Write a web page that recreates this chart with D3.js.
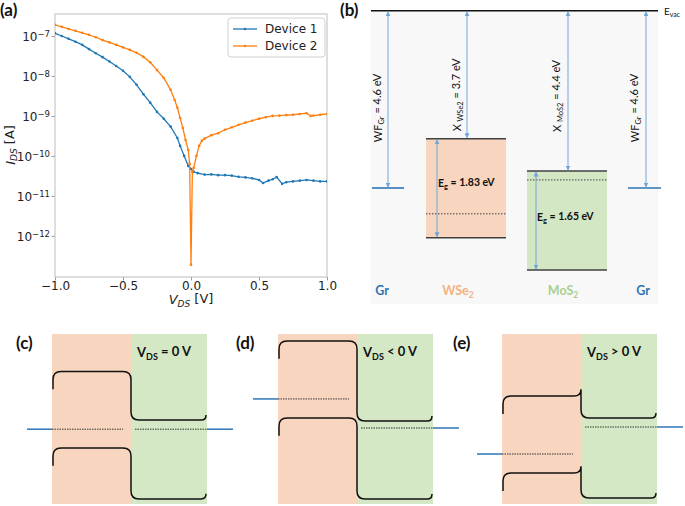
<!DOCTYPE html>
<html><head><meta charset="utf-8">
<script src="https://cdn.jsdelivr.net/npm/d3@7"></script>
<style>body{margin:0;background:#fff}svg{display:block}</style>
</head><body>
<script>
// ---------- Panel (a) data ----------
const voltage1 = [-1.0,-0.95,-0.9,-0.85,-0.8,-0.75,-0.7,-0.65,-0.6,-0.55,-0.5,-0.45,-0.4,-0.35,-0.3,-0.25,-0.2,-0.15,-0.1,-0.08,-0.05,-0.02,0.0,0.02,0.05,0.1,0.15,0.2,0.25,0.3,0.35,0.4,0.45,0.5,0.53,0.57,0.6,0.63,0.67,0.7,0.75,0.8,0.85,0.9,0.95,1.0];
const current1 = [1.17e-7,1.0e-7,8.5e-8,7.2e-8,6.0e-8,4.7e-8,3.7e-8,2.95e-8,2.3e-8,1.78e-8,1.35e-8,9.5e-9,6.0e-9,3.5e-9,2.15e-9,1.26e-9,8.5e-10,5.4e-10,2.8e-10,1.78e-10,1.0e-10,5.6e-11,4.7e-11,4.0e-11,3.7e-11,3.4e-11,3.45e-11,3.3e-11,3.3e-11,3.2e-11,3.0e-11,2.9e-11,2.75e-11,2.5e-11,2.1e-11,2.4e-11,2.6e-11,2.95e-11,2.0e-11,2.2e-11,2.3e-11,2.4e-11,2.5e-11,2.4e-11,2.3e-11,2.3e-11];
const voltage2 = [-1.0,-0.95,-0.9,-0.85,-0.8,-0.75,-0.7,-0.65,-0.6,-0.55,-0.5,-0.45,-0.4,-0.35,-0.3,-0.25,-0.2,-0.15,-0.12,-0.1,-0.08,-0.06,-0.04,-0.02,-0.01,0.0,0.01,0.02,0.04,0.06,0.08,0.1,0.15,0.2,0.25,0.3,0.35,0.4,0.45,0.5,0.55,0.6,0.65,0.7,0.75,0.8,0.85,0.88,0.9,0.95,1.0];
const current2 = [1.9e-7,1.7e-7,1.5e-7,1.35e-7,1.2e-7,1.07e-7,9.3e-8,7.9e-8,6.9e-8,6.0e-8,5.2e-8,4.5e-8,3.8e-8,3.0e-8,2.2e-8,1.4e-8,8.9e-9,4.5e-9,2.5e-9,1.6e-9,8.9e-10,5.0e-10,2.5e-10,1.4e-10,6.3e-11,1.9e-13,4.0e-11,5.0e-11,1.0e-10,1.8e-10,2.4e-10,2.7e-10,3.3e-10,3.7e-10,4.5e-10,5.2e-10,6.0e-10,6.8e-10,7.6e-10,8.5e-10,9.3e-10,1.0e-9,1.02e-9,1.05e-9,1.07e-9,1.12e-9,1.17e-9,1.0e-9,1.02e-9,1.07e-9,1.12e-9];
const seriesNames = ["Device 1","Device 2"];
const seriesColors = ["#1f77b4","#ff7f0e"];
const xTickValues = [-1.0,-0.5,0.0,0.5,1.0];
const yTickExponents = [-12,-11,-10,-9,-8,-7];

// ---------- Panel (b) data ----------
const bMaterials = ["Gr","WSe","MoS","Gr"];
const bMaterialColors = ["#2e75b6","#f4b183","#a9d18e","#2e75b6"];
const workFunctionGr = 4.6;
const affinities = [3.7, 4.4];        // chi WSe2, chi MoS2 (eV)
const bandGaps = [1.83, 1.65];        // Eg WSe2, Eg MoS2 (eV)
// schematic drawn levels below vacuum (diagram units)
const cbLevels = [3.32, 4.16];
const vbLevels = [5.89, 6.73];
const fermiLevels = [5.27, 4.39];

// ---------- Panels (c)-(e) data (schematic, relative energy 0-100) ----------
const panelLabels = ["(c)","(d)","(e)"];
const biasText = ["= 0 V","< 0 V","> 0 V"];
const wse2CB = [78, 95.9, 63.5];
const mos2CB = [49.4, 48.8, 50.6];
const wse2VB = [33, 50.6, 18.2];
const mos2VB = [3, 2.9, 3.5];
const fermiLeft = [44, 61.8, 29.4];
const fermiRight = [44, 44.7, 45.3];
const junctionSpike = [0, 0, 4];
const bendLeft = 10.5, bendRight = 3;

const svg = d3.select("body").append("svg").attr("width",685).attr("height",506);
const defs = svg.append("defs");

// ================= Panel (a) =================
const mpl = "DejaVu Sans, sans-serif";
const x = d3.scaleLinear().domain([-1,1]).range([55,327]);
const y = d3.scaleLog().domain([Math.pow(10,-13.03), Math.pow(10,-6.45)]).range([277,14]);
const gA = svg.append("g");
defs.append("clipPath").attr("id","clipA").append("rect").attr("x",55).attr("y",14).attr("width",272).attr("height",263);

const xAxis = gA.append("g").attr("transform","translate(0,277)")
  .call(d3.axisBottom(x).tickValues(xTickValues).tickSizeOuter(0).tickSize(3.5).tickPadding(0.5)
    .tickFormat(d => d3.format(".1f")(d).replace("-","\u2212")));
const yAxis = gA.append("g").attr("transform","translate(55,0)")
  .call(d3.axisLeft(y).tickValues(yTickExponents.map(e => Math.pow(10,e))).tickSizeOuter(0).tickSize(3.5).tickFormat(""));
[xAxis,yAxis].forEach(a => {
  a.select(".domain").remove();
  a.selectAll("line").attr("stroke","#999");
  a.selectAll("text").attr("font-family",mpl).attr("font-size",12).attr("fill","#222");
});
yAxis.selectAll(".tick").each(function(d,i){
  const t = d3.select(this).append("text").attr("x",-5).attr("dy","0.4em")
    .attr("text-anchor","end").attr("font-family",mpl).attr("font-size",12).attr("fill","#222");
  t.append("tspan").text("10");
  t.append("tspan").attr("dy","-0.45em").attr("font-size",8.5).text("\u2212" + Math.abs(yTickExponents[i]));
});
gA.append("rect").attr("x",55).attr("y",14).attr("width",272).attr("height",263)
  .attr("fill","none").attr("stroke","#bdbdbd").attr("stroke-width",1);

const series = [
  voltage1.map((v,i)=>({v, c: current1[i]})),
  voltage2.map((v,i)=>({v, c: current2[i]}))
];
const line = d3.line().x(d=>x(d.v)).y(d=>y(d.c));
const plot = gA.append("g").attr("clip-path","url(#clipA)");
series.forEach((s,k)=>{
  plot.append("path").datum(s).attr("d",line).attr("fill","none")
    .attr("stroke",seriesColors[k]).attr("stroke-width",1.3);
  plot.selectAll(null).data(s).enter().append("circle")
    .attr("cx",d=>x(d.v)).attr("cy",d=>y(d.c)).attr("r",1.3).attr("fill",seriesColors[k]);
});

// legend
const leg = gA.append("g");
leg.append("rect").attr("x",228).attr("y",18).attr("width",97).attr("height",39).attr("rx",3)
  .attr("fill","#fff").attr("fill-opacity",0.8).attr("stroke","#d0d0d0");
seriesNames.forEach((n,k)=>{
  const yy = 29 + k*17;
  leg.append("line").attr("x1",233).attr("x2",257).attr("y1",yy).attr("y2",yy)
    .attr("stroke",seriesColors[k]).attr("stroke-width",1.3);
  leg.append("circle").attr("cx",245).attr("cy",yy).attr("r",1.3).attr("fill",seriesColors[k]);
  leg.append("text").attr("x",265).attr("y",yy+4).attr("font-family",mpl).attr("font-size",12)
    .attr("fill","#222").text(n);
});

// axis labels
const xl = gA.append("text").attr("x",191).attr("y",304).attr("text-anchor","middle")
  .attr("font-family",mpl).attr("font-size",13).attr("fill","#222");
xl.append("tspan").attr("font-style","italic").text("V");
xl.append("tspan").attr("font-style","italic").attr("font-size",9).attr("dy","0.3em").text("DS");
xl.append("tspan").attr("dy","-0.3em").text(" [V]");
const yl = gA.append("text").attr("transform","translate(15,145) rotate(-90)").attr("text-anchor","middle")
  .attr("font-family",mpl).attr("font-size",13).attr("fill","#222");
yl.append("tspan").attr("font-style","italic").text("I");
yl.append("tspan").attr("font-style","italic").attr("font-size",9).attr("dy","0.25em").text("DS");
yl.append("tspan").attr("dy","-0.25em").text(" [A]");

// ================= panel labels =================
const lato = "Lato, 'Open Sans', sans-serif";
[["(a)",0,16],["(b)",340,16],["(c)",16,349],["(d)",236,349],["(e)",453,349]].forEach(p=>{
  svg.append("text").attr("x",p[1]).attr("y",p[2]).attr("font-family",lato).attr("font-weight","bold")
    .attr("font-size",17).attr("fill","#111").text(p[0]);
});

// ================= Panel (b) =================
const eB = d3.scaleLinear().domain([0, workFunctionGr]).range([10.7, 188]);
const arrowColor = "#6ea6dc";
defs.append("marker").attr("id","ah").attr("viewBox","0 0 10 10").attr("refX",9).attr("refY",5)
  .attr("markerWidth",5).attr("markerHeight",5).attr("orient","auto-start-reverse")
  .attr("markerUnits","userSpaceOnUse")
  .append("path").attr("d","M0,0L10,5L0,10Z").attr("fill",arrowColor);
const gB = svg.append("g");
gB.append("rect").attr("x",371).attr("y",11).attr("width",287).attr("height",293).attr("fill","#f8f8f8");

const boxes = [[426,506],[527,607]];
const fills = ["#f8d5be","#d4e7c5"];
boxes.forEach((b,i)=>{
  gB.append("rect").attr("x",b[0]).attr("y",eB(cbLevels[i])).attr("width",b[1]-b[0])
    .attr("height",eB(vbLevels[i])-eB(cbLevels[i])).attr("fill",fills[i]);
  [cbLevels[i],vbLevels[i]].forEach(l=>gB.append("line").attr("x1",b[0]).attr("x2",b[1])
    .attr("y1",eB(l)).attr("y2",eB(l)).attr("stroke","#404040").attr("stroke-width",1.5));
  gB.append("line").attr("x1",b[0]).attr("x2",b[1]).attr("y1",eB(fermiLevels[i])).attr("y2",eB(fermiLevels[i]))
    .attr("stroke","#404040").attr("stroke-width",1).attr("stroke-dasharray","1.5,1.5");
});
// vacuum level
gB.append("line").attr("x1",371).attr("x2",658).attr("y1",eB(0)).attr("y2",eB(0)).attr("stroke","#111").attr("stroke-width",1.5);
const ev = gB.append("text").attr("x",664).attr("y",15).attr("font-family",lato).attr("font-size",10).attr("fill","#111");
ev.append("tspan").text("E");
ev.append("tspan").attr("font-size",7).attr("dy","0.3em").text("vac");
// graphene levels
[[372,404],[628,661]].forEach(g=>gB.append("line").attr("x1",g[0]).attr("x2",g[1])
  .attr("y1",eB(workFunctionGr)).attr("y2",eB(workFunctionGr)).attr("stroke","#2e75b6").attr("stroke-width",1.6));

function arrow(xp, e0, e1){
  gB.append("line").attr("x1",xp).attr("x2",xp).attr("y1",eB(e0)+1).attr("y2",eB(e1)-1)
    .attr("stroke",arrowColor).attr("stroke-width",1)
    .attr("marker-start","url(#ah)").attr("marker-end","url(#ah)");
}
arrow(388, 0, workFunctionGr);
arrow(646, 0, workFunctionGr);
arrow(467, 0, cbLevels[0]);
arrow(568, 0, cbLevels[1]);
arrow(437, cbLevels[0], vbLevels[0]);
arrow(536, cbLevels[1], vbLevels[1]);

function rotLabel(xp, yc, main, sub, rest){
  const t = gB.append("text").attr("transform",`translate(${xp},${yc}) rotate(-90)`).attr("text-anchor","middle")
    .attr("font-family",lato).attr("font-size",11).attr("fill","#111");
  t.append("tspan").text(main);
  t.append("tspan").attr("font-size",7.5).attr("dy","0.3em").text(sub);
  t.append("tspan").attr("dy","-0.3em").text(rest);
}
rotLabel(382,108,"WF","Gr"," = " + workFunctionGr.toFixed(1) + " eV");
rotLabel(461,95,"X ","WSe2"," = " + affinities[0].toFixed(1) + " eV");
rotLabel(561,96,"X ","MoS2"," = " + affinities[1].toFixed(1) + " eV");
rotLabel(639,108,"WF","Gr"," = " + workFunctionGr.toFixed(1) + " eV");

[[438,187],[537,221]].forEach((p,i)=>{
  const t = gB.append("text").attr("x",p[0]).attr("y",p[1]).attr("font-family",lato).attr("font-weight","bold")
    .attr("font-size",10.5).attr("fill","#111");
  t.append("tspan").text("E");
  t.append("tspan").attr("font-size",7.5).attr("dy","0.3em").text("g");
  t.append("tspan").attr("dy","-0.3em").text(" = " + bandGaps[i].toFixed(2) + " eV");
});
[382,458,563,643].forEach((xp,i)=>{
  const t = gB.append("text").attr("x",xp).attr("y",295).attr("text-anchor","middle").attr("font-family",lato)
    .attr("font-weight","bold").attr("font-size",12.5).attr("fill",bMaterialColors[i]);
  t.append("tspan").text(bMaterials[i]);
  if (i===1 || i===2) t.append("tspan").attr("font-size",8.5).attr("dy","0.3em").text("2");
});

// ================= Panels (c)-(e) =================
const yE = d3.scaleLinear().domain([0,100]).range([504,334]);
const panelLeft = [52, 278, 502];
const wL = 79, wR = 76;
function bandPath(x0, xJ, x1, eL, eR, spike){
  const r = 8;
  const yL = yE(eL), yLs = yE(eL - bendLeft), yR = yE(eR), yRe = yE(eR + bendRight);
  const p = d3.path();
  p.moveTo(x0+1, yLs);
  p.lineTo(x0+1, yL + r);
  p.quadraticCurveTo(x0+1, yL, x0+1+r, yL);
  if (spike > 0) {
    const ys = yE(eL + spike);
    p.lineTo(xJ - 7, yL);
    p.quadraticCurveTo(xJ, yL, xJ, ys);
    p.lineTo(xJ, yR - r);
  } else {
    p.lineTo(xJ - r, yL);
    p.quadraticCurveTo(xJ, yL, xJ, yL + r);
    p.lineTo(xJ, yR - r);
  }
  p.quadraticCurveTo(xJ, yR, xJ + r, yR);
  p.lineTo(x1 - 1 - r*0.6, yR);
  p.quadraticCurveTo(x1 - 1, yR, x1 - 1, yRe);
  return p.toString();
}
panelLabels.forEach((lab,i)=>{
  const x0 = panelLeft[i], xJ = x0 + wL, x1 = xJ + wR;
  const g = svg.append("g");
  g.append("rect").attr("x",x0).attr("y",yE(100)).attr("width",wL).attr("height",yE(0)-yE(100)).attr("fill","#f8d5bf");
  g.append("rect").attr("x",xJ).attr("y",yE(100)).attr("width",wR).attr("height",yE(0)-yE(100)).attr("fill","#d4e8c6");
  // Fermi levels
  g.append("line").attr("x1",x0).attr("x2",xJ-8).attr("y1",yE(fermiLeft[i])).attr("y2",yE(fermiLeft[i]))
    .attr("stroke","#333").attr("stroke-width",1).attr("stroke-dasharray","1.5,1");
  g.append("line").attr("x1",xJ+4).attr("x2",x1).attr("y1",yE(fermiRight[i])).attr("y2",yE(fermiRight[i]))
    .attr("stroke","#333").attr("stroke-width",1).attr("stroke-dasharray","1.5,1");
  g.append("line").attr("x1",x0-25).attr("x2",x0).attr("y1",yE(fermiLeft[i])).attr("y2",yE(fermiLeft[i]))
    .attr("stroke","#2e75b6").attr("stroke-width",1.5);
  g.append("line").attr("x1",x1).attr("x2",x1+26).attr("y1",yE(fermiRight[i])).attr("y2",yE(fermiRight[i]))
    .attr("stroke","#2e75b6").attr("stroke-width",1.5);
  // bands
  g.append("path").attr("d",bandPath(x0,xJ,x1,wse2CB[i],mos2CB[i],junctionSpike[i]))
    .attr("fill","none").attr("stroke","#111").attr("stroke-width",1.5);
  g.append("path").attr("d",bandPath(x0,xJ,x1,wse2VB[i],mos2VB[i],junctionSpike[i]))
    .attr("fill","none").attr("stroke","#111").attr("stroke-width",1.5);
  const t = g.append("text").attr("x",x0+85).attr("y",357).attr("font-family",lato).attr("font-weight","bold")
    .attr("font-size",13).attr("fill","#111");
  t.append("tspan").text("V");
  t.append("tspan").attr("font-size",9).attr("dy","0.3em").text("DS");
  t.append("tspan").attr("dy","-0.3em").text(" " + biasText[i]);
});
</script>
</body></html>
